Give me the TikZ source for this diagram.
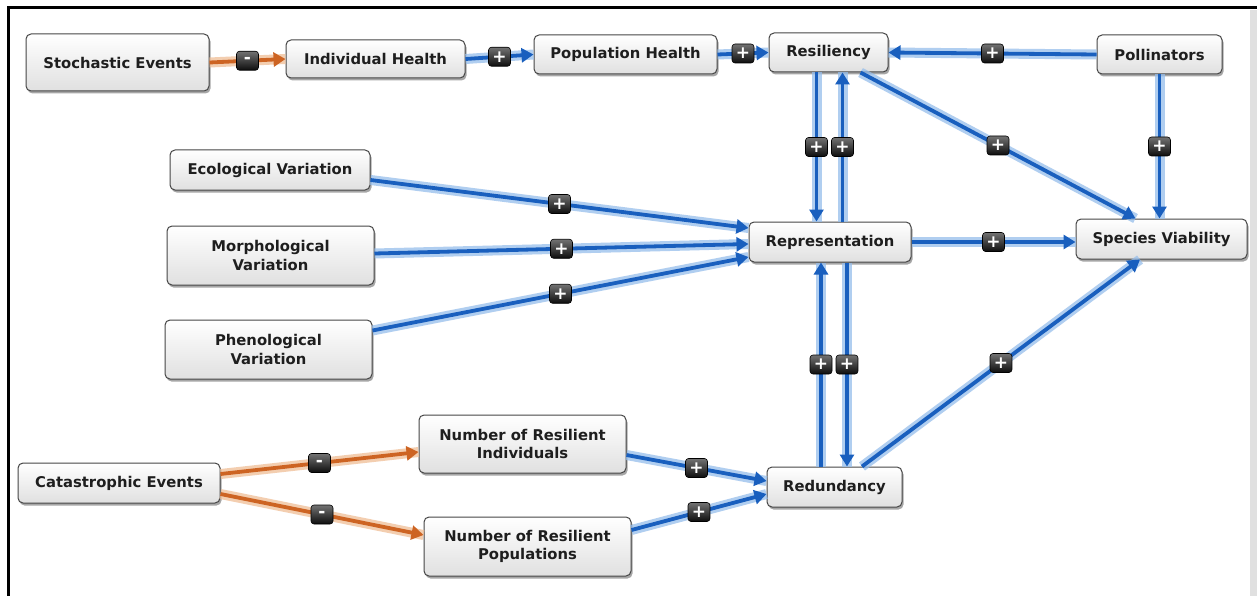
\documentclass[tikz,border=0pt]{standalone}
\usepackage{fontspec}
\setmainfont{DejaVu Sans}
\usetikzlibrary{arrows.meta,shadows,calc}
\definecolor{eblue}{RGB}{25,95,190}
\definecolor{ehalo}{RGB}{150,190,235}
\definecolor{eorange}{RGB}{205,100,35}
\definecolor{ohalo}{RGB}{240,190,150}
\definecolor{boxborder}{RGB}{70,70,70}
\definecolor{boxbot}{RGB}{224,224,224}
\definecolor{txt}{RGB}{30,30,30}
\tikzset{
  box/.style={draw=boxborder, line width=1pt, rounded corners=5pt,
    top color=white, bottom color=boxbot,
    drop shadow={shadow xshift=1.5pt, shadow yshift=-2.5pt, opacity=0.35, fill=black},
    font=\bfseries\fontsize{14.8}{18.5}\selectfont, text=txt, align=center, inner sep=0pt},
  posedge/.style={draw=eblue, line width=3.8pt, -{Triangle[length=12pt,width=14pt]},
    preaction={draw=ehalo, line width=10pt, -, opacity=0.75}},
  negedge/.style={draw=eorange, line width=3.8pt, -{Triangle[length=12pt,width=14pt]},
    preaction={draw=ohalo, line width=10pt, -, opacity=0.75}},
  sign/.style={draw=black, line width=0.6pt, top color=black!55, bottom color=black!95,
    rounded corners=3pt, minimum width=22pt, minimum height=19pt, inner sep=0pt,
    text=white, font=\bfseries\fontsize{17}{17}\selectfont},
}
\begin{document}
\begin{tikzpicture}[x=1pt,y=-1pt]
\useasboundingbox (0,0) rectangle (1257,596);
\fill[white] (0,0) rectangle (1257,596);
% frame
\fill[black!12] (1250,10) rectangle (1257,596);
\draw[line width=3pt] (8,596) -- (8,8) -- (1257,8);

% nodes
\node[box, minimum width=183pt, minimum height=57pt] (stoch) at (117.5,62.5) {Stochastic Events};
\node[box, minimum width=179pt, minimum height=38pt] (indh) at (375.5,59) {Individual Health};
\node[box, minimum width=183pt, minimum height=39pt] (poph) at (625.5,54.5) {Population Health};
\node[box, minimum width=119pt, minimum height=39pt] (res) at (828.5,52.5) {Resiliency};
\node[box, minimum width=125pt, minimum height=39pt] (poll) at (1159.5,54.5) {Pollinators};
\node[box, minimum width=200pt, minimum height=40pt] (eco) at (270,170) {Ecological Variation};
\node[box, minimum width=207pt, minimum height=59pt] (morph) at (270.5,255.5) {Morphological\\Variation};
\node[box, minimum width=207pt, minimum height=59pt] (phen) at (268.5,349.5) {Phenological\\Variation};
\node[box, minimum width=162pt, minimum height=40pt] (rep) at (830,242) {Representation};
\node[box, minimum width=171pt, minimum height=40pt] (sv) at (1161.5,239) {Species Viability};
\node[box, minimum width=207pt, minimum height=58pt] (nri) at (522.5,444) {Number of Resilient\\Individuals};
\node[box, minimum width=135pt, minimum height=40pt] (red) at (834.5,487) {Redundancy};
\node[box, minimum width=202pt, minimum height=40pt] (cat) at (119,483) {Catastrophic Events};
\node[box, minimum width=207pt, minimum height=59pt] (nrp) at (527.5,546.5) {Number of Resilient\\Populations};

% edges
\draw[negedge] (stoch.east) -- node[sign]{-} (indh.west);
\draw[posedge] (indh.east) -- node[sign]{+} (poph.west);
\draw[posedge] (poph.east) -- node[sign]{+} (res.west);
\draw[posedge] (poll.west) -- node[sign]{+} (res.east);
\draw[posedge] ([xshift=-12pt]res.south) -- node[sign]{+} ([xshift=-12pt]res.south |- rep.north);
\draw[posedge] ([xshift=14pt]res.south |- rep.north) -- node[sign]{+} ([xshift=14pt]res.south);
\draw[posedge] ([xshift=32pt]res.south) -- node[sign]{+} ([xshift=-26pt]sv.north);
\draw[posedge] (poll.south) -- node[sign]{+} (poll.south |- sv.north);
\draw[posedge] ([yshift=-10pt]eco.east) -- node[sign]{+} ([yshift=14pt]rep.west);
\draw[posedge] ([yshift=2pt]morph.east) -- node[sign]{+} ([yshift=-2pt]rep.west);
\draw[posedge] ([yshift=19pt]phen.east) -- node[sign]{+} ([yshift=-15pt]rep.west);
\draw[posedge] (rep.east) -- node[sign]{+} (rep.east -| sv.west);
\draw[posedge] ([xshift=-13.5pt]red.north) -- node[sign]{+} ([xshift=-13.5pt]red.north |- rep.south);
\draw[posedge] ([xshift=12.5pt]red.north |- rep.south) -- node[sign]{+} ([xshift=12.5pt]red.north);
\draw[posedge] ([xshift=27.5pt]red.north) -- node[sign]{+} ([xshift=-21.5pt]sv.south);
\draw[negedge] ([yshift=9pt]cat.east) -- node[sign]{-} ([yshift=-8pt]nri.west);
\draw[negedge] ([yshift=-11pt]cat.east) -- node[sign]{-} ([yshift=11.5pt]nrp.west);
\draw[posedge] ([yshift=-11pt]nri.east) -- node[sign]{+} ([yshift=6pt]red.west);
\draw[posedge] ([yshift=16.5pt]nrp.east) -- node[sign]{+} ([yshift=-7pt]red.west);
\end{tikzpicture}
\end{document}
